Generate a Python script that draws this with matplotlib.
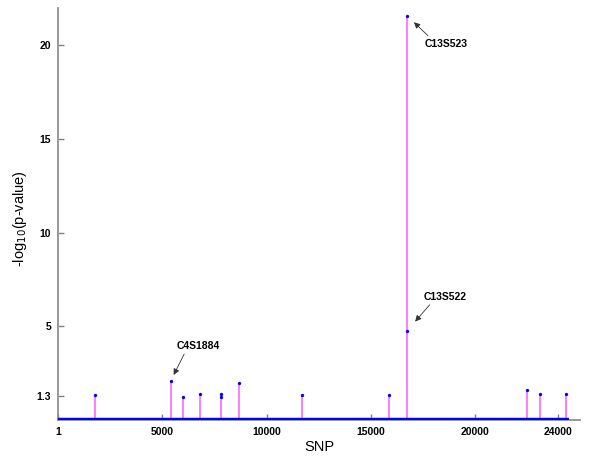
import numpy as np
import matplotlib
matplotlib.use('Agg')
import matplotlib.pyplot as plt

# SNPs that pass the threshold (position, -log10 p)
snp_pos  = [1772, 5398, 5972, 6834, 7807, 7807, 8669, 11719, 15853, 16734, 16734, 22481, 23132, 24349]
snp_logp = [1.32, 2.07, 1.23, 1.38, 1.41, 1.25, 1.96, 1.32, 1.35, 4.75, 21.6, 1.62, 1.39, 1.39]
n_snps = 24520

# labelled SNPs: (name, position, -log10 p)
label_names = ['C4S1884', 'C13S522', 'C13S523']
label_pos   = [5398, 16734, 16734]
label_logp  = [2.07, 4.75, 21.6]

xticks = [1, 5000, 10000, 15000, 20000, 24000]
yticks = [1.3, 5, 10, 15, 20]

plt.rcParams['font.family'] = ['Liberation Sans', 'DejaVu Sans']

fig = plt.figure(figsize=(6, 4.58), dpi=100)
ax = fig.add_axes([0.0967, 0.083, 0.87, 0.8995])

# baseline of all snps
ax.plot([1, n_snps], [0, 0], color='#0000ff', lw=3.2, solid_capstyle='butt', zorder=3)

# stems
ax.vlines(snp_pos, 0, snp_logp, color='#ff7dff', lw=1.4, zorder=2)
ax.plot(snp_pos, snp_logp, 'o', color='#0000ff', ms=2.4, mec='none', zorder=4)

# annotations (offsets in pixels)
txt_off = [(28, 35), (38, 34), (39, -28)]
rel = [(0.2, 0.0), (0.2, 0.0), (0.15, 1.0)]
shr = [5, 9, 7]
for name, px, py, off, rp, sb in zip(label_names, label_pos, label_logp, txt_off, rel, shr):
    ax.annotate(name, xy=(px, py), xytext=off, textcoords='offset pixels',
                ha='center', va='center', fontsize=7.5, fontweight='bold',
                arrowprops=dict(arrowstyle='-|>', color='#333333', lw=0.6,
                                mutation_scale=9, shrinkA=0, shrinkB=sb, relpos=rp))

ax.set_xlim(1, 25035)
ax.set_ylim(0, 22)
ax.set_xticks(xticks)
ax.set_yticks(yticks)
ax.set_xticklabels([str(t) for t in xticks], fontweight='bold', fontsize=7.5)
ax.set_yticklabels([str(t) for t in yticks], fontweight='bold', fontsize=7.5)
ax.tick_params(direction='in', length=4, color='#808080', width=1, pad=5)

for s in ['top', 'right']:
    ax.spines[s].set_visible(False)
for s in ['left', 'bottom']:
    ax.spines[s].set_color('#909090')
    ax.spines[s].set_linewidth(1.3)

ax.set_xlabel('SNP', fontsize=10.5, labelpad=2)
ax.set_ylabel(r'-log$_{10}$(p-value)', fontsize=10.5)
ax.yaxis.set_label_coords(-0.055, 0.49)

fig.savefig('out.png', dpi=100)
